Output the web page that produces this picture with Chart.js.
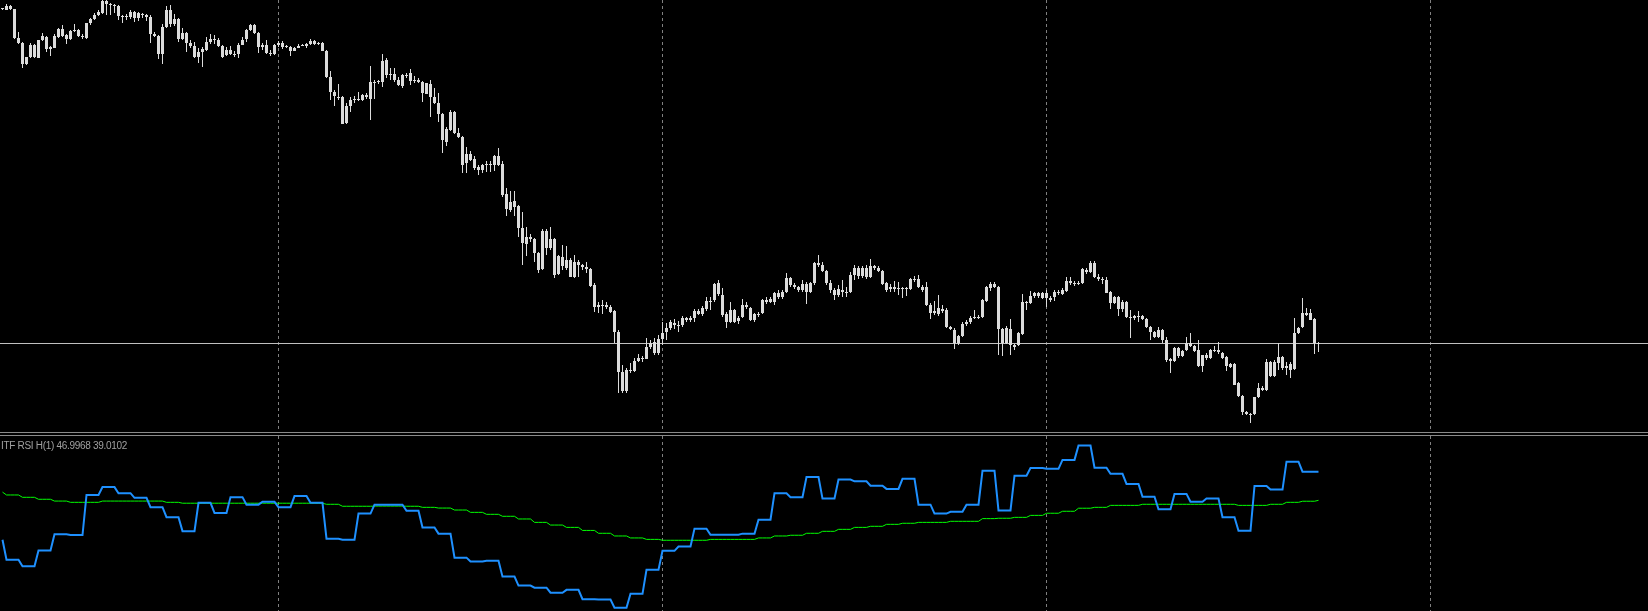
<!DOCTYPE html>
<html>
<head>
<meta charset="utf-8">
<script src="https://cdn.jsdelivr.net/npm/chart.js@4.4.1/dist/chart.umd.min.js"></script>
<style>
    body { margin: 0; background: #000; width: 1648px; height: 611px; overflow: hidden; position: relative; }
    canvas { display: block; }
    #main-wrap { position: absolute; left: 0; top: 0; width: 1648px; height: 432px; }
    #rsi-wrap { position: absolute; left: 0; top: 436px; width: 1648px; height: 175px; }
    .sep { position: absolute; left: 0; width: 1648px; height: 1px; background: #8a8a8a; }
    #rsi-label { position: absolute; left: 1px; top: 440px; font: 10px "Liberation Sans", Arial, sans-serif; letter-spacing: -0.3px; color: #a0a0a0; white-space: nowrap; }
</style>
</head>
<body>
<div id="main-wrap"><canvas id="priceChart" width="1648" height="432"></canvas></div>
<div class="sep" style="top:432px"></div>
<div class="sep" style="top:435px"></div>
<div id="rsi-wrap"><canvas id="rsiChart" width="1648" height="175"></canvas></div>
<div id="rsi-label">ITF RSI H(1) 46.9968 39.0102</div>
<script>
// M15 candles (price in points), one entry per bar
const open = [
    441, 440, 444, 441, 412, 407, 386, 393, 405, 392,
    410, 413, 401, 402, 413, 421, 415, 411, 419, 420,
    414, 412, 427, 431, 435, 437, 449, 446, 445, 444,
    434, 433, 433, 438, 432, 436, 435, 433, 416, 414,
    396, 423, 440, 426, 431, 411, 417, 407, 404, 393,
    398, 400, 408, 411, 410, 404, 395, 400, 396, 396,
    405, 411, 420, 425, 417, 403, 405, 397, 396, 405,
    407, 403, 403, 399, 402, 404, 404, 406, 409, 406,
    407, 399, 373, 358, 353, 353, 327, 344, 350, 350,
    350, 355, 351, 367, 368, 368, 390, 375, 376, 370,
    364, 375, 377, 370, 370, 368, 356, 366, 353, 347,
    336, 308, 320, 338, 317, 313, 287, 296, 291, 283,
    280, 285, 286, 285, 294, 286, 256, 240, 249, 244,
    222, 206, 213, 211, 197, 181, 219, 202, 211, 176,
    184, 190, 190, 173, 188, 185, 183, 181, 165, 145,
    144, 145, 143, 139, 118, 78, 59, 80, 79, 89,
    92, 91, 103, 108, 97, 111, 118, 122, 127, 125,
    125, 132, 130, 132, 139, 136, 141, 149, 150, 167,
    155, 136, 128, 140, 129, 133, 145, 142, 130, 136,
    137, 150, 148, 148, 157, 153, 158, 172, 165, 163,
    160, 166, 158, 167, 187, 185, 179, 167, 160, 155,
    160, 158, 158, 175, 182, 174, 182, 173, 184, 182,
    179, 167, 161, 163, 161, 162, 161, 161, 170, 171,
    163, 163, 145, 137, 136, 141, 140, 123, 120, 107,
    114, 126, 128, 132, 133, 133, 149, 162, 166, 163,
    121, 107, 121, 105, 105, 116, 148, 147, 154, 157,
    152, 157, 152, 153, 158, 156, 159, 169, 167, 166,
    167, 180, 178, 187, 173, 171, 170, 158, 147, 153,
    141, 148, 133, 132, 134, 134, 131, 123, 118, 113,
    120, 110, 91, 89, 102, 94, 100, 107, 104, 100,
    84, 95, 92, 100, 100, 97, 93, 86, 86, 67,
    54, 38, 36, 36, 53, 60, 60, 88, 74, 87,
    93, 82, 80, 81, 117, 123, 137, 137, 131, 107
];
const high = [
    442, 446, 445, 441, 418, 408, 393, 407, 406, 410,
    417, 414, 404, 416, 422, 425, 416, 420, 426, 421,
    416, 427, 432, 437, 440, 450, 450, 447, 446, 445,
    435, 436, 440, 439, 438, 437, 436, 435, 418, 415,
    426, 444, 445, 436, 432, 422, 418, 410, 408, 402,
    403, 413, 416, 415, 412, 405, 403, 404, 399, 407,
    413, 421, 426, 426, 418, 407, 410, 400, 406, 409,
    409, 405, 404, 403, 406, 406, 407, 411, 410, 408,
    408, 400, 379, 360, 366, 354, 347, 353, 354, 358,
    356, 357, 384, 370, 370, 396, 392, 382, 382, 373,
    376, 377, 381, 374, 372, 369, 367, 370, 362, 357,
    337, 323, 340, 339, 322, 314, 303, 299, 294, 285,
    286, 289, 289, 295, 302, 289, 262, 259, 259, 245,
    238, 223, 216, 212, 198, 221, 221, 223, 212, 195,
    205, 204, 192, 195, 190, 186, 188, 182, 167, 148,
    150, 148, 145, 140, 120, 85, 82, 87, 92, 96,
    94, 112, 110, 112, 115, 128, 127, 130, 131, 129,
    134, 133, 134, 141, 141, 144, 153, 153, 167, 170,
    162, 138, 148, 141, 134, 151, 148, 143, 137, 138,
    151, 153, 153, 158, 160, 160, 177, 173, 167, 164,
    170, 168, 168, 188, 195, 188, 180, 170, 162, 165,
    170, 163, 178, 185, 184, 184, 185, 191, 185, 184,
    180, 168, 166, 169, 168, 163, 163, 172, 174, 175,
    165, 168, 147, 149, 155, 145, 142, 124, 122, 115,
    128, 130, 134, 140, 135, 151, 164, 168, 168, 164,
    122, 124, 131, 106, 118, 156, 149, 159, 158, 158,
    158, 160, 154, 160, 160, 162, 173, 173, 169, 169,
    182, 182, 189, 189, 176, 173, 173, 159, 154, 154,
    150, 149, 140, 135, 139, 135, 132, 124, 119, 123,
    121, 113, 92, 103, 103, 100, 113, 117, 105, 110,
    95, 97, 101, 104, 108, 98, 94, 87, 87, 68,
    55, 39, 37, 53, 67, 64, 91, 89, 90, 107,
    94, 88, 88, 132, 123, 152, 142, 141, 132, 108
];
const low = [
    440, 440, 440, 411, 406, 382, 385, 392, 392, 392,
    409, 398, 394, 402, 412, 413, 406, 410, 418, 413,
    411, 411, 425, 430, 434, 436, 435, 435, 437, 430,
    427, 430, 431, 428, 429, 432, 429, 407, 413, 391,
    386, 422, 423, 424, 408, 410, 398, 402, 392, 387,
    383, 399, 406, 406, 403, 392, 394, 395, 393, 392,
    405, 408, 419, 416, 397, 400, 396, 394, 395, 403,
    401, 402, 394, 399, 402, 404, 402, 405, 405, 405,
    399, 372, 350, 344, 350, 326, 326, 338, 347, 349,
    349, 351, 330, 351, 366, 363, 372, 370, 368, 364,
    362, 372, 365, 367, 367, 348, 356, 333, 346, 328,
    297, 304, 319, 316, 312, 277, 277, 289, 280, 275,
    277, 278, 278, 279, 284, 253, 234, 238, 234, 213,
    185, 194, 208, 188, 177, 180, 195, 200, 172, 175,
    180, 180, 173, 172, 173, 180, 177, 163, 138, 137,
    136, 141, 137, 107, 57, 57, 57, 77, 78, 88,
    88, 91, 101, 95, 95, 105, 110, 120, 121, 118,
    123, 128, 128, 128, 135, 134, 139, 140, 148, 154,
    133, 122, 127, 127, 126, 132, 141, 129, 128, 133,
    136, 146, 147, 145, 151, 151, 157, 163, 161, 158,
    158, 146, 157, 165, 183, 178, 165, 157, 150, 153,
    153, 153, 157, 170, 171, 172, 171, 172, 180, 178,
    165, 158, 158, 158, 155, 152, 154, 160, 168, 162,
    158, 144, 131, 135, 134, 137, 122, 120, 101, 105,
    113, 124, 126, 131, 131, 132, 148, 159, 162, 95,
    94, 106, 95, 100, 104, 115, 140, 146, 152, 152,
    151, 143, 148, 149, 155, 155, 158, 165, 164, 165,
    166, 176, 177, 172, 169, 166, 157, 141, 146, 134,
    138, 132, 112, 130, 128, 130, 122, 110, 112, 112,
    107, 88, 77, 88, 92, 93, 99, 103, 98, 83,
    78, 90, 91, 98, 96, 91, 79, 82, 65, 53,
    35, 35, 27, 35, 52, 59, 59, 73, 73, 80,
    80, 75, 72, 80, 116, 122, 134, 130, 96, 98
];
const close = [
    441, 444, 441, 412, 407, 386, 393, 405, 393, 410,
    414, 401, 403, 414, 421, 414, 411, 419, 420, 414,
    413, 427, 431, 435, 438, 449, 446, 445, 444, 434,
    433, 434, 438, 432, 437, 435, 433, 416, 414, 396,
    423, 440, 426, 431, 411, 417, 407, 404, 393, 398,
    401, 408, 411, 410, 404, 393, 400, 396, 395, 405,
    410, 420, 425, 417, 403, 405, 397, 396, 405, 407,
    403, 403, 399, 402, 404, 405, 406, 409, 406, 407,
    399, 373, 358, 354, 352, 326, 344, 350, 351, 351,
    355, 353, 368, 368, 369, 389, 375, 376, 370, 365,
    375, 374, 369, 369, 368, 357, 367, 353, 347, 336,
    310, 321, 338, 317, 313, 285, 296, 290, 282, 280,
    285, 286, 285, 294, 285, 255, 241, 248, 243, 222,
    207, 213, 211, 197, 180, 219, 202, 211, 175, 194,
    193, 182, 173, 188, 185, 183, 181, 164, 143, 143,
    145, 143, 138, 118, 78, 59, 80, 79, 89, 92,
    91, 103, 107, 97, 111, 117, 122, 128, 125, 124,
    132, 130, 132, 139, 136, 142, 149, 148, 166, 156,
    135, 128, 140, 128, 132, 145, 143, 130, 136, 135,
    150, 148, 151, 157, 153, 158, 172, 165, 163, 160,
    166, 158, 167, 187, 185, 179, 167, 160, 155, 161,
    158, 157, 175, 182, 174, 182, 173, 184, 182, 179,
    166, 160, 163, 161, 162, 161, 162, 171, 171, 163,
    160, 145, 137, 139, 142, 139, 123, 121, 107, 114,
    126, 128, 132, 133, 132, 150, 163, 166, 163, 121,
    107, 122, 105, 103, 117, 148, 147, 154, 157, 154,
    157, 152, 150, 158, 157, 160, 169, 167, 166, 167,
    181, 178, 187, 173, 171, 170, 157, 147, 153, 141,
    148, 133, 132, 134, 133, 131, 123, 118, 113, 120,
    110, 90, 89, 102, 94, 99, 107, 104, 99, 84,
    95, 92, 100, 99, 98, 92, 84, 83, 65, 54,
    38, 36, 35, 53, 62, 62, 88, 74, 88, 93,
    82, 84, 86, 117, 122, 137, 135, 130, 107, 106
];

// H1 RSI and its signal, one value per hour (4 M15 bars each)
const rsiH1 = [
    28.0, 22.4, 20.6, 25.0, 29.5, 29.3, 40.5, 42.7, 41.0, 39.7,
    37.1, 34.3, 30.4, 38.3, 35.5, 39.9, 37.8, 38.6, 37.1, 40.2,
    38.3, 28.3, 28.0, 35.3, 37.8, 37.8, 36.1, 31.4, 29.7, 23.0,
    21.9, 22.1, 17.7, 15.2, 14.6, 13.2, 14.0, 11.4, 11.3, 9.0,
    12.9, 19.6, 24.9, 26.1, 31.1, 29.4, 29.4, 29.7, 33.6, 41.0,
    39.9, 45.5, 39.5, 44.8, 44.3, 43.1, 42.2, 45.0, 37.8, 35.3,
    35.8, 37.8, 47.3, 36.2, 45.9, 48.0, 47.8, 50.3, 54.3, 48.1,
    46.4, 43.6, 40.0, 36.5, 40.8, 38.6, 39.5, 34.3, 30.5, 43.0,
    42.0, 49.8, 47.0, 46.9968
];
const signalH1 = [
    41.3, 40.5, 39.85, 39.3, 38.8, 38.45, 38.45, 38.8, 38.8, 38.8,
    38.8, 38.45, 38.2, 38.2, 38.2, 38.2, 38.2, 38.2, 38.2, 38.2,
    38.2, 37.9, 37.35, 37.35, 37.4, 37.4, 37.35, 37.05, 36.85, 36.3,
    35.65, 35.1, 34.55, 33.8, 32.85, 32.1, 31.45, 30.6, 29.8, 29.05,
    28.5, 28.1, 27.85, 27.85, 27.85, 28.1, 28.1, 28.1, 28.5, 29.05,
    29.25, 29.8, 30.35, 30.9, 31.45, 31.75, 32.3, 32.6, 32.85, 32.85,
    33.15, 33.15, 33.9, 34.0, 34.25, 34.8, 35.4, 35.95, 36.8, 37.05,
    37.6, 37.6, 37.9, 37.9, 37.9, 37.9, 37.9, 37.9, 37.6, 37.6,
    37.9, 38.45, 38.75, 39.0102
];

// Day separators (bar index) and the horizontal price level
const daySeparators = [69, 165, 261, 357];
const priceLevel = 107;

const candleColor = '#dcdcdc';

// Shared x range so both panes line up bar for bar
const xRange = { min: -0.625, max: 411.375 };

// Draws dashed day separators and the price level behind the series
const gridLines = {
    id: 'gridLines',
    beforeDatasetsDraw(chart, args, opts) {
        const { ctx, chartArea, scales } = chart;
        ctx.save();
        ctx.lineWidth = 1;
        ctx.strokeStyle = '#808080';
        ctx.setLineDash([3, 3]);
        daySeparators.forEach(bar => {
            const x = Math.floor(scales.x.getPixelForValue(bar)) + 0.5;
            ctx.beginPath();
            ctx.moveTo(x, chartArea.top);
            ctx.lineTo(x, chartArea.bottom);
            ctx.stroke();
        });
        if (opts.level !== undefined) {
            ctx.setLineDash([]);
            ctx.strokeStyle = '#c0c0c0';
            const y = Math.floor(scales.y.getPixelForValue(opts.level)) + 0.5;
            ctx.beginPath();
            ctx.moveTo(chartArea.left, y);
            ctx.lineTo(chartArea.right, y);
            ctx.stroke();
        }
        ctx.restore();
    }
};

const bars = open.map((_, i) => i);

// Price pane: wicks and bodies as floating bars
new Chart(document.getElementById('priceChart'), {
    type: 'bar',
    data: {
        datasets: [
            {
                label: 'wick',
                data: bars.map(i => ({ x: i, y: [low[i], high[i]] })),
                backgroundColor: candleColor,
                borderWidth: 0,
                barThickness: 1,
                grouped: false,
                inflateAmount: 0
            },
            {
                label: 'body',
                data: bars.map(i => ({ x: i, y: [open[i], close[i]] })),
                backgroundColor: ctx => close[ctx.dataIndex] > open[ctx.dataIndex] ? '#000000' : candleColor,
                borderColor: candleColor,
                borderWidth: 1,
                borderSkipped: false,
                barThickness: 3,
                minBarLength: 1,
                grouped: false,
                inflateAmount: 0
            }
        ]
    },
    options: {
        responsive: false,
        animation: false,
        devicePixelRatio: 1,
        layout: { padding: 0 },
        scales: {
            x: { type: 'linear', display: false, offset: false, min: xRange.min, max: xRange.max },
            y: { display: false, min: 18, max: 450 }
        },
        plugins: {
            legend: { display: false },
            tooltip: { enabled: false },
            gridLines: { level: priceLevel }
        }
    },
    plugins: [gridLines]
});

// RSI pane
new Chart(document.getElementById('rsiChart'), {
    type: 'line',
    data: {
        datasets: [
            {
                label: 'RSI H1',
                data: bars.map(i => ({ x: i, y: rsiH1[Math.ceil(i / 4)] })),
                borderColor: '#1e90ff',
                borderWidth: 2,
                pointRadius: 0,
                tension: 0
            },
            {
                label: 'Signal',
                data: bars.map(i => ({ x: i, y: signalH1[Math.ceil(i / 4)] })),
                borderColor: '#00ff00',
                borderWidth: 1,
                pointRadius: 0,
                tension: 0
            }
        ]
    },
    options: {
        responsive: false,
        animation: false,
        devicePixelRatio: 1,
        layout: { padding: 0 },
        scales: {
            x: { type: 'linear', display: false, offset: false, min: xRange.min, max: xRange.max },
            y: { display: false, min: 8.1, max: 56.97 }
        },
        plugins: {
            legend: { display: false },
            tooltip: { enabled: false }
        }
    },
    plugins: [gridLines]
});
</script>
</body>
</html>
